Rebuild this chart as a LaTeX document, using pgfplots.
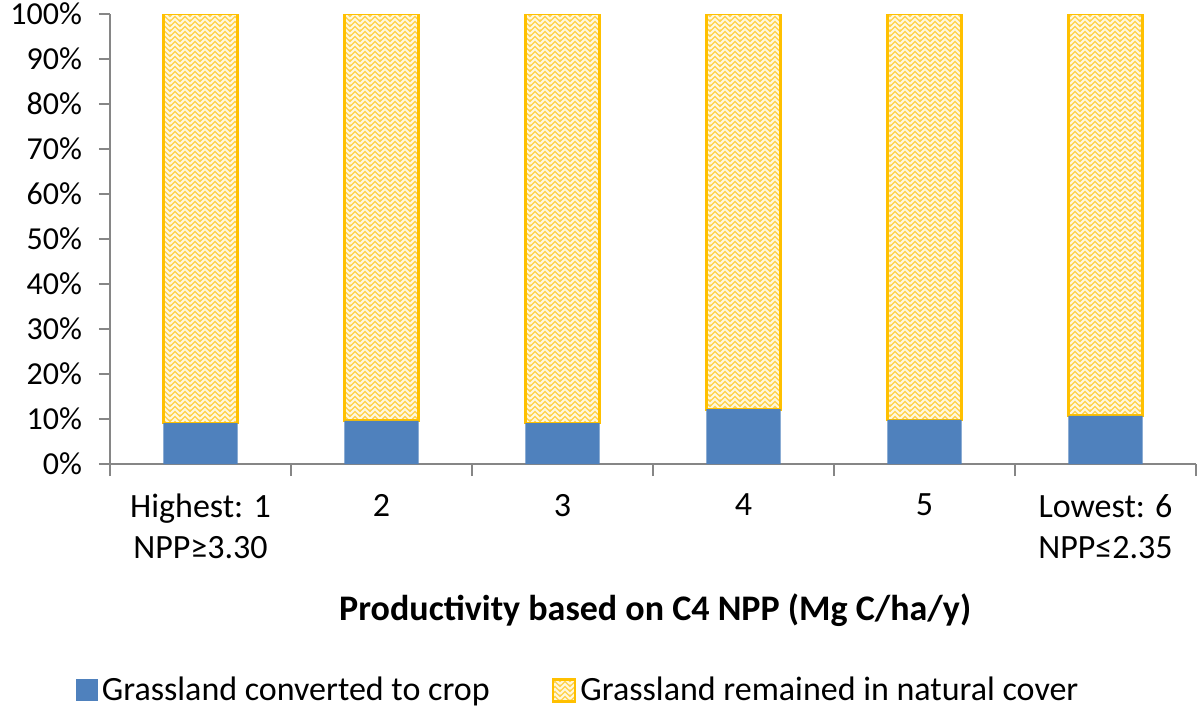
\documentclass[border=0pt]{standalone}
\usepackage{pgfplots}
\pgfplotsset{compat=1.18}
\usepackage{fontspec}
\setmainfont{Carlito}
\usetikzlibrary{patterns}
\pgfdeclarepatternformonly{herring}{\pgfqpoint{-1pt}{-1pt}}{\pgfqpoint{6pt}{6pt}}{\pgfqpoint{5pt}{5pt}}{
 \pgfsetlinewidth{1pt}
 \pgfpathmoveto{\pgfqpoint{0pt}{0pt}}\pgfpathlineto{\pgfqpoint{2.5pt}{2.5pt}}\pgfpathlineto{\pgfqpoint{5pt}{0pt}}
 \pgfpathmoveto{\pgfqpoint{0pt}{2.5pt}}\pgfpathlineto{\pgfqpoint{2.5pt}{5pt}}\pgfpathlineto{\pgfqpoint{5pt}{2.5pt}}
 \pgfusepath{stroke}}
\definecolor{cblue}{HTML}{4F81BD}
\definecolor{cgold}{HTML}{FFC000}
\definecolor{cyel}{HTML}{FFD24D}
\definecolor{cpale}{HTML}{FFF8DE}
\definecolor{caxis}{HTML}{868686}
\begin{document}
\begin{tikzpicture}
\begin{axis}[
  name=ax,
  scale only axis,
  width=543pt, height=225pt,
  ybar stacked,
  bar width=0.41,
  xmin=-0.5, xmax=5.5,
  ymin=0, ymax=100,
  axis lines*=left,
  axis line style={caxis, line width=0.8pt},
  xtick={0,...,5},
  xticklabels={{Highest: 1\\NPP≥3.30},2,3,4,5,{Lowest: 6\\NPP≤2.35}},
  xticklabel style={align=center, font=\fontsize{17}{20.5}\selectfont, yshift=-6pt},
  major x tick style={draw=none},
  minor xtick={-0.5,0.5,...,5.5},
  minor x tick style={caxis, line width=0.8pt},
  minor tick length=6pt,
  tick align=outside,
  ytick={0,10,...,100},
  major y tick style={caxis, line width=0.8pt},
  major tick length=5.5pt,
  yticklabel={\pgfmathprintnumber[assume math mode=true]{\tick}\%},
  yticklabel style={font=\fontsize{16}{20}\selectfont, xshift=-5pt},
  xlabel={\textbf{Productivity based on C4 NPP (Mg C/ha/y)}},
  xlabel style={font=\fontsize{18}{22}\selectfont, at={(axis description cs:0.502,-0.325)}, anchor=center},
  legend style={at={(0.432,-0.503)}, anchor=center, draw=none, legend columns=2,
    font=\fontsize{17}{20}\selectfont, /tikz/every even column/.append style={column sep=29pt}},
  legend image code/.code={\path[#1] (0pt,-5.5pt) rectangle (11pt,5.5pt);},
]
\addplot[fill=cblue, draw=none] coordinates {(0,9.1) (1,9.6) (2,9.1) (3,12.2) (4,9.8) (5,10.7)};
\addlegendentry{Grassland converted to crop}
\addplot[fill=cyel, draw=cgold, line width=1.4pt, postaction={pattern=herring, pattern color=cpale}] coordinates {(0,90.9) (1,90.4) (2,90.9) (3,87.8) (4,90.2) (5,89.3)};
\addlegendentry{Grassland remained in natural cover}
\end{axis}
\pgfresetboundingbox
\path[use as bounding box] ([xshift=-55pt,yshift=-122.5pt]ax.south west) rectangle ([xshift=545pt,yshift=232pt]ax.south west);
\end{tikzpicture}
\end{document}
